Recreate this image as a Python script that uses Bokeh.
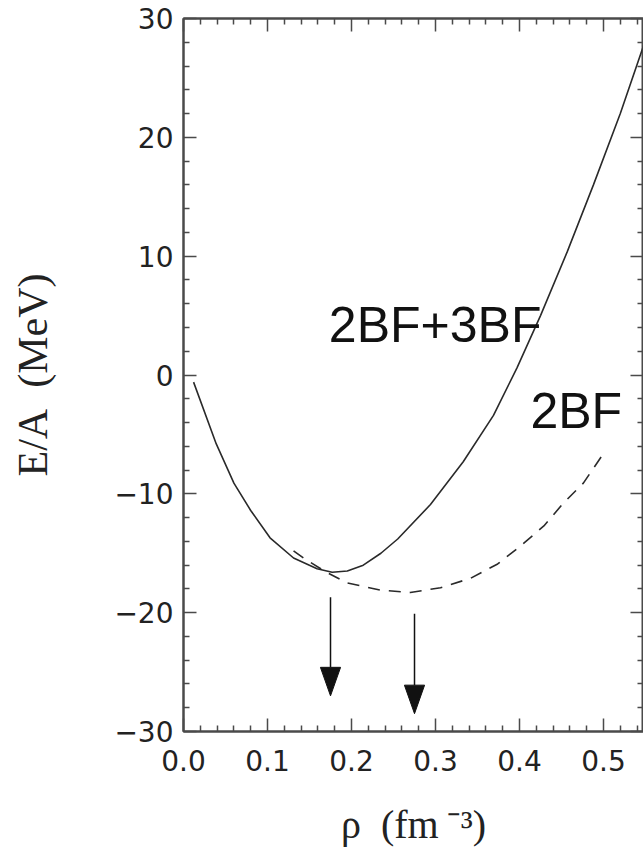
from bokeh.plotting import figure
from bokeh.models import FixedTicker, LinearAxis, Range1d, ColumnDataSource
from bokeh.core.properties import value
from bokeh.embed import file_html
from bokeh.resources import INLINE

# 2BF+3BF (solid)
rho_3bf = [0.012, 0.039, 0.060, 0.080, 0.103, 0.131, 0.159, 0.177, 0.195, 0.214, 0.235, 0.255,
           0.294, 0.333, 0.369, 0.397, 0.425, 0.457, 0.488, 0.520, 0.549]
e_3bf = [-0.6, -5.8, -9.1, -11.4, -13.7, -15.4, -16.3, -16.6, -16.5, -16.0, -15.0, -13.8,
         -10.9, -7.3, -3.4, 0.6, 5.0, 10.4, 16.0, 22.0, 28.0]

# 2BF (dashed)
rho_2bf = [0.131, 0.145, 0.170, 0.195, 0.234, 0.270, 0.306, 0.342, 0.374, 0.401,
           0.429, 0.452, 0.476, 0.500]
e_2bf = [-14.8, -15.5, -16.6, -17.5, -18.1, -18.3, -17.9, -17.1, -15.9, -14.4,
         -12.7, -10.8, -9.1, -6.6]

# saturation arrows
arrow_x = [0.175, 0.275]
arrow_top = [-18.7, -20.1]
arrow_tip = [-27.0, -28.5]

# curve labels
label_text = ["2BF+3BF", "2BF"]
label_x = [0.173, 0.413]
label_y = [4.2, -3.0]

# ticks
x_ticks = [0.0, 0.1, 0.2, 0.3, 0.4, 0.5]
x_tick_labels = ["0.0", "0.1", "0.2", "0.3", "0.4", "0.5"]
x_minor = [0.02, 0.04, 0.06, 0.08, 0.12, 0.14, 0.16, 0.18, 0.22, 0.24, 0.26, 0.28,
           0.32, 0.34, 0.36, 0.38, 0.42, 0.44, 0.46, 0.48, 0.52, 0.54]
y_ticks = [-30, -20, -10, 0, 10, 20, 30]
y_tick_labels = ["\u221230", "\u221220", "\u221210", "0", "10", "20", "30"]
y_minor = [-28, -26, -24, -22, -18, -16, -14, -12, -8, -6, -4, -2,
           2, 4, 6, 8, 12, 14, 16, 18, 22, 24, 26, 28]

AX = "#4a4a4a"
LC = "#2a2a2a"

p = figure(frame_width=460, frame_height=713,
           x_range=Range1d(0, 0.5476), y_range=Range1d(-30, 30),
           output_backend="svg", toolbar_location=None,
           min_border_left=183, min_border_top=18, min_border_right=0,
           min_border_bottom=0, background_fill_color="white",
           border_fill_color="white")
p.xgrid.visible = False
p.ygrid.visible = False
p.outline_line_color = AX
p.outline_line_width = 2

def style(ax, ticks, minor, labels, show):
    ax.ticker = FixedTicker(ticks=ticks, minor_ticks=minor)
    ax.major_tick_in = 13
    ax.major_tick_out = 0
    ax.minor_tick_in = 6
    ax.minor_tick_out = 0
    ax.major_tick_line_color = AX
    ax.minor_tick_line_color = AX
    ax.major_tick_line_width = 1.5
    ax.minor_tick_line_width = 1.5
    ax.axis_line_color = AX
    ax.axis_line_width = 2
    if show:
        ax.major_label_overrides = {t: l for t, l in zip(ticks, labels)}
        ax.major_label_text_font = "DejaVu Sans"
        ax.major_label_text_font_size = "28px"
        ax.major_label_text_color = "#222222"
    else:
        ax.major_label_overrides = {t: "" for t in ticks}
        ax.major_label_standoff = 0

style(p.xaxis[0], x_ticks, x_minor, x_tick_labels, True)
style(p.yaxis[0], y_ticks, y_minor, y_tick_labels, True)
p.xaxis[0].major_label_standoff = 18
p.yaxis[0].major_label_standoff = 10

p.xaxis[0].axis_label = "\u03c1\u2002(fm\u2009\u207b\u00b3)"
p.xaxis[0].axis_label_text_font = "Liberation Serif"
p.xaxis[0].axis_label_text_font_style = "normal"
p.xaxis[0].axis_label_text_font_size = "40px"
p.xaxis[0].axis_label_text_color = "#222222"
p.xaxis[0].axis_label_standoff = 28

p.yaxis[0].axis_label = "E/A\u2002(MeV)"
p.yaxis[0].axis_label_text_font = "Liberation Serif"
p.yaxis[0].axis_label_text_font_style = "normal"
p.yaxis[0].axis_label_text_font_size = "42px"
p.yaxis[0].axis_label_text_color = "#222222"
p.yaxis[0].axis_label_standoff = 55

top = LinearAxis()
right = LinearAxis()
style(top, x_ticks, x_minor, x_tick_labels, False)
style(right, y_ticks, y_minor, y_tick_labels, False)
p.add_layout(top, "above")
p.add_layout(right, "right")

# curves
p.line(rho_3bf, e_3bf, line_color=LC, line_width=1.6)
p.line(rho_2bf, e_2bf, line_color=LC, line_width=1.6, line_dash="12 9")

# arrows
head_len = 2.4
head_hw = 0.012
p.segment(x0=arrow_x, y0=arrow_top, x1=arrow_x,
          y1=[t + head_len for t in arrow_tip], line_color="#111111", line_width=1.5)
p.patches(xs=[[x - head_hw, x + head_hw, x] for x in arrow_x],
          ys=[[t + head_len, t + head_len, t] for t in arrow_tip],
          fill_color="#111111", line_color="#111111")

# labels
src = ColumnDataSource(dict(x=label_x, y=label_y, t=label_text))
p.text(x="x", y="y", text="t", source=src, text_font=value("Liberation Sans"),
       text_font_size="50px", text_color="#111111", text_baseline="alphabetic",
       text_align="left")

open("out.html", "w").write(file_html(p, INLINE))
